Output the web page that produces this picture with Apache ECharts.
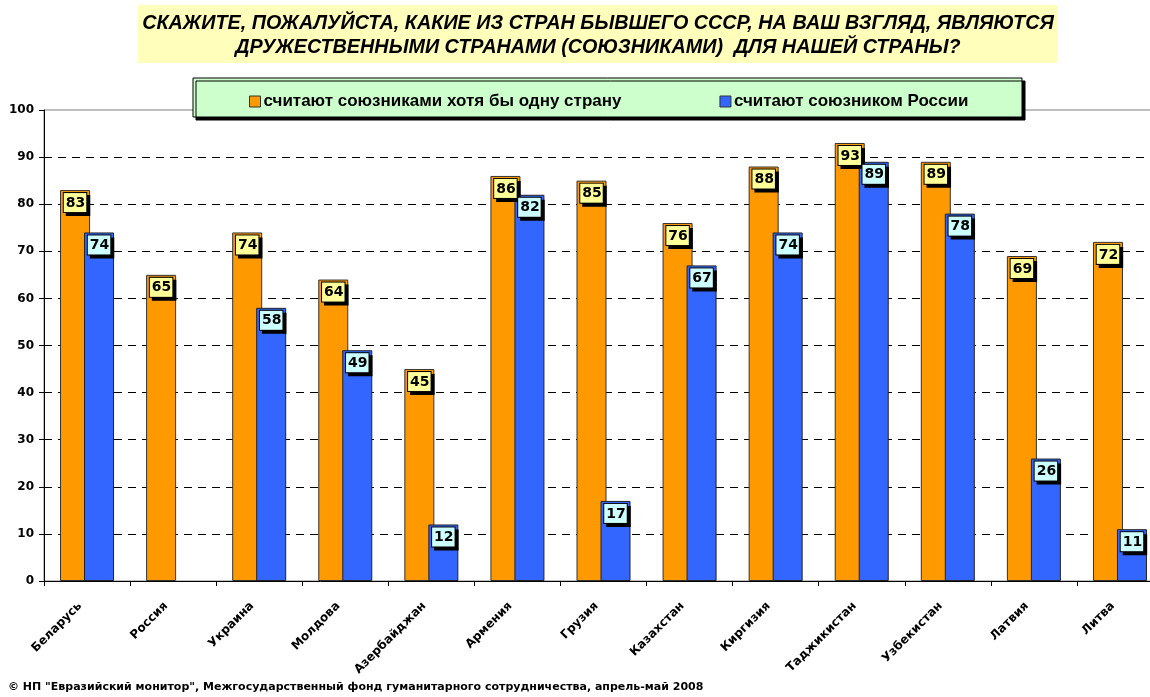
<!DOCTYPE html>
<html>
<head>
<meta charset="utf-8">
<script src="https://cdn.jsdelivr.net/npm/echarts@6/dist/echarts.min.js"></script>
<style>
  html, body { margin: 0; padding: 0; background: #fff; }
  #chart { width: 1150px; height: 697px; }
</style>
</head>
<body>
<div id="chart"></div>
<script>
const countries = ['Беларусь', 'Россия', 'Украина', 'Молдова', 'Азербайджан', 'Армения', 'Грузия',
  'Казахстан', 'Киргизия', 'Таджикистан', 'Узбекистан', 'Латвия', 'Литва']
const anyAlly = [83, 65, 74, 64, 45, 86, 85, 76, 88, 93, 89, 69, 72]
const russiaAlly = [74, null, 58, 49, 12, 82, 17, 67, 74, 89, 78, 26, 11]
const seriesNames = ['считают союзниками хотя бы одну страну', 'считают союзником России']
const titleLines = [
  'СКАЖИТЕ, ПОЖАЛУЙСТА, КАКИЕ ИЗ СТРАН БЫВШЕГО СССР, НА ВАШ ВЗГЛЯД, ЯВЛЯЮТСЯ',
  'ДРУЖЕСТВЕННЫМИ СТРАНАМИ (СОЮЗНИКАМИ)  ДЛЯ НАШЕЙ СТРАНЫ?',
]
const footer = '© НП "Евразийский монитор", Межгосударственный фонд гуманитарного сотрудничества, апрель-май 2008'

const chart = echarts.init(document.getElementById('chart'))

const valueLabel = (bg) => ({
  show: true,
  position: 'insideTop',
  distance: 3,
  color: '#000',
  fontFamily: 'DejaVu Sans',
  fontWeight: 'bold',
  fontSize: 14,
  backgroundColor: bg,
  borderColor: '#000',
  borderWidth: 1,
  padding: [3, 1, 2, 2],
  shadowColor: '#000',
  shadowOffsetX: 3,
  shadowOffsetY: 3,
  shadowBlur: 0,
})

// last split line (100) is the grey frame, not dashed
const splitColors = Array(10).fill('#000').concat(['rgba(0,0,0,0)'])

chart.setOption({
  backgroundColor: '#fff',
  animation: false,
  graphic: [
    {
      type: 'rect',
      z: 1,
      shape: { x: 138, y: 5, width: 920, height: 58 },
      style: { fill: '#FFFFBB' },
    },
    {
      type: 'text',
      z: 2,
      x: 598,
      y: 12,
      style: {
        text: titleLines.join('\n'),
        textAlign: 'center',
        fill: '#000',
        font: 'italic bold 19.8px "Liberation Sans", Arial, sans-serif',
        lineHeight: 24,
      },
    },
    {
      type: 'rect',
      z: 3,
      shape: { x: 193, y: 78, width: 829, height: 39 },
      style: {
        fill: '#CCFFCC',
        stroke: '#000',
        lineWidth: 1,
        shadowColor: '#000',
        shadowOffsetX: 3,
        shadowOffsetY: 3,
        shadowBlur: 0,
      },
    },
    {
      type: 'text',
      z: 2,
      x: 8,
      y: 682,
      style: {
        text: footer,
        fill: '#000',
        font: 'bold 11px "DejaVu Sans", Verdana, sans-serif',
      },
    },
  ],
  legend: {
    z: 5,
    left: 244,
    top: 88,
    itemWidth: 11,
    itemHeight: 11,
    itemGap: 98,
    icon: 'rect',
    selectedMode: false,
    itemStyle: { borderColor: '#333', borderWidth: 1 },
    textStyle: {
      fontFamily: 'Liberation Sans',
      fontWeight: 'bold',
      fontSize: 17,
      color: '#000',
      padding: [0, 0, 0, -2],
    },
    data: seriesNames,
  },
  grid: {
    left: 44,
    top: 110,
    width: 1119,
    bottom: 116,
    outerBoundsMode: 'none',
    containLabel: false,
    show: true,
    borderColor: '#808080',
    borderWidth: 1,
    backgroundColor: 'rgba(0,0,0,0)',
  },
  xAxis: {
    type: 'category',
    data: countries,
    axisLine: { lineStyle: { color: '#000', width: 1 } },
    axisTick: { show: true, length: 5, lineStyle: { color: '#000' } },
    axisLabel: {
      rotate: 45,
      margin: 16,
      padding: [0, 10, 0, 0],
      color: '#000',
      fontFamily: 'DejaVu Sans',
      fontWeight: 'bold',
      fontSize: 12,
      interval: 0,
    },
  },
  yAxis: {
    type: 'value',
    min: 0,
    max: 100,
    interval: 10,
    axisLine: { show: true, lineStyle: { color: '#000', width: 1 } },
    axisTick: { show: true, length: 5, lineStyle: { color: '#000' } },
    axisLabel: {
      margin: 10,
      color: '#000',
      fontFamily: 'DejaVu Sans',
      fontWeight: 'bold',
      fontSize: 12,
    },
    splitLine: {
      show: true,
      lineStyle: { color: splitColors, type: [8, 6], width: 1 },
    },
  },
  series: [
    {
      name: seriesNames[0],
      type: 'bar',
      data: anyAlly,
      barWidth: 30,
      barGap: '-20%',
      itemStyle: { color: '#FF9900', borderColor: '#333', borderWidth: 1 },
      label: valueLabel('#FFFF99'),
    },
    {
      name: seriesNames[1],
      type: 'bar',
      data: russiaAlly,
      barWidth: 30,
      itemStyle: { color: '#3366FF', borderColor: '#222', borderWidth: 1 },
      label: valueLabel('#CCFFFF'),
    },
  ],
})
</script>
</body>
</html>
